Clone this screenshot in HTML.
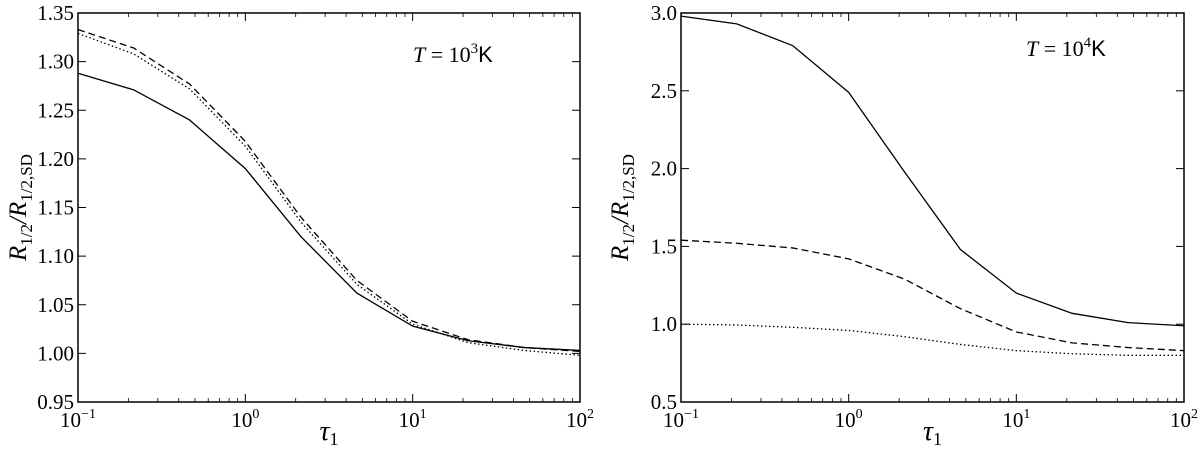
<!DOCTYPE html>
<html><head><meta charset="utf-8"><style>
body{margin:0;background:#fff;width:1200px;height:447px;overflow:hidden}
</style></head><body>
<svg id="c" width="1200" height="447" font-family="Liberation Serif, serif"></svg>
<script>
const xTau=[0.1,0.215,0.464,1,2.15,4.64,10,21.5,46.4,100];
const leftSolid=[1.288,1.271,1.240,1.190,1.120,1.062,1.028,1.013,1.006,1.003];
const leftDashed=[1.333,1.314,1.277,1.218,1.140,1.075,1.033,1.014,1.006,1.002];
const leftDotted=[1.329,1.308,1.272,1.213,1.135,1.071,1.030,1.011,1.003,0.998];
const rightSolid=[2.98,2.93,2.79,2.49,1.98,1.48,1.20,1.07,1.01,0.99];
const rightDashed=[1.54,1.52,1.49,1.42,1.29,1.10,0.95,0.88,0.85,0.83];
const rightDotted=[1.00,0.995,0.98,0.96,0.92,0.87,0.83,0.81,0.80,0.80];
const leftYTicks=[0.95,1.00,1.05,1.10,1.15,1.20,1.25,1.30,1.35];
const leftYLabels=["0.95","1.00","1.05","1.10","1.15","1.20","1.25","1.30","1.35"];
const rightYTicks=[0.5,1.0,1.5,2.0,2.5,3.0];
const rightYLabels=["0.5","1.0","1.5","2.0","2.5","3.0"];
const xDecades=[-1,0,1,2];

const NS="http://www.w3.org/2000/svg";
const svg=document.getElementById('c');
const SERIF='Liberation Serif, serif';
function mk(t,a,p){const e=document.createElementNS(NS,t);for(const k in a)e.setAttribute(k,a[k]);(p||svg).appendChild(e);return e;}

function panel(cfg){
  const g=mk('g',{});
  
  
  const {x0,x1,y0,y1,ymin,ymax}=cfg;
  const sx=v=>x0+(Math.log10(v)+1)/3*(x1-x0);
  const sy=v=>y1-(v-ymin)/(ymax-ymin)*(y1-y0);
  xDecades.forEach(d=>{
    const x=sx(Math.pow(10,d));
    [[y1,y1-8],[y0,y0+8]].forEach(([a,b])=>mk('line',{x1:x,x2:x,y1:a,y2:b,stroke:'#000','stroke-width':1},g));
    const t=mk('text',{x:x,y:y1+25,'text-anchor':'middle','font-size':21,'font-family':SERIF},g);
    
    
    t.textContent='10';
    const s=mk('tspan',{dy:-9,'font-size':14},t);s.textContent=d<0?'\u2212'+(-d):String(d);
    if(d<2)for(let m=2;m<=9;m++){const xm=sx(m*Math.pow(10,d));
      [[y1,y1-4],[y0,y0+4]].forEach(([a,b])=>mk('line',{x1:xm,x2:xm,y1:a,y2:b,stroke:'#000','stroke-width':0.8},g));}
  });
  cfg.yt.forEach((v,i)=>{
    const y=sy(v);
    [[x0,x0+8],[x1,x1-8]].forEach(([a,b])=>mk('line',{x1:a,x2:b,y1:y,y2:y,stroke:'#000','stroke-width':1},g));
    const t=mk('text',{x:x0-4,y:y+7,'text-anchor':'end','font-size':21,'font-family':SERIF},g);
    
    
    t.textContent=cfg.yl[i];
  });
  const styles=[['solid',cfg.s,''],['dashed',cfg.d,'7,4'],['dotted',cfg.o,'1.5,2.5']];
  styles.forEach(([n,arr,da])=>{
    const p=mk('polyline',{points:arr.map((v,i)=>sx(xTau[i])+','+sy(v)).join(' '),fill:'none',stroke:'#000','stroke-width':1.3,'stroke-dasharray':da},g);
    
    
  });
  const fr=mk('rect',{x:x0,y:y0,width:x1-x0,height:y1-y0,fill:'none',stroke:'#000','stroke-width':1.5},g);
  
  
  const xl=mk('text',{x:(x0+x1)/2,y:440,'text-anchor':'middle','font-size':28,'font-style':'italic','font-family':SERIF},g);
  
  
  xl.textContent='τ';const xs=mk('tspan',{dy:5,'font-size':18,'font-style':'normal'},xl);xs.textContent='1';
  const yx=cfg.ylx, yy=(y0+y1)/2;
  const yl=mk('text',{x:yx,y:yy,'text-anchor':'middle','font-size':25,'font-style':'italic','font-family':SERIF,transform:`rotate(-90 ${yx} ${yy})`},g);
  
  
  yl.innerHTML='R<tspan dy="6" font-size="17" font-style="normal">1/2</tspan><tspan dy="-6">/R</tspan><tspan dy="6" font-size="17" font-style="normal">1/2,SD</tspan>';
  const an=mk('text',{x:cfg.ax,y:cfg.ay,'font-size':22,'font-family':SERIF},g);
  
  
  an.innerHTML='<tspan font-style="italic">T</tspan> = 10<tspan dy="-9" font-size="15">'+cfg.exp+'</tspan><tspan dy="9" font-family="Liberation Sans, sans-serif">K</tspan>';
}
panel({name:'left-panel',x0:78,x1:580,y0:13,y1:402,ymin:0.95,ymax:1.35,yt:leftYTicks,yl:leftYLabels,s:leftSolid,d:leftDashed,o:leftDotted,ylx:26,ax:413,ay:62,exp:'3'});
panel({name:'right-panel',x0:681,x1:1184,y0:13,y1:402,ymin:0.5,ymax:3.0,yt:rightYTicks,yl:rightYLabels,s:rightSolid,d:rightDashed,o:rightDotted,ylx:628,ax:1026,ay:56,exp:'4'});
</script>
</body></html>
